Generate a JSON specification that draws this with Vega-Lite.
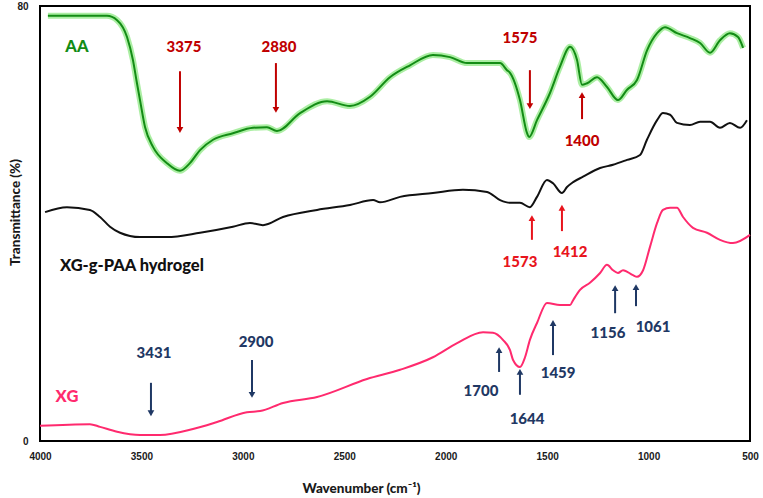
{
  "$schema": "https://vega.github.io/schema/vega-lite/v6.json",
  "autosize": "none",
  "width": 710,
  "height": 435,
  "padding": {"left": 40, "top": 6, "right": 13, "bottom": 57},
  "background": "white",
  "config": {
    "view": {"stroke": "#000000", "strokeWidth": 2},
    "font": "Lato"
  },
  "datasets": {
    "spectra": [
      {"group": "AA", "wn": 3961, "t": 78.2}, {"group": "AA", "wn": 3670, "t": 78.2}, {"group": "AA", "wn": 3620, "t": 77.4},
      {"group": "AA", "wn": 3571, "t": 74.3}, {"group": "AA", "wn": 3542, "t": 70.1}, {"group": "AA", "wn": 3522, "t": 65.8},
      {"group": "AA", "wn": 3507, "t": 62.7}, {"group": "AA", "wn": 3482, "t": 57.7}, {"group": "AA", "wn": 3443, "t": 54.1},
      {"group": "AA", "wn": 3374, "t": 51.1}, {"group": "AA", "wn": 3310, "t": 49.7}, {"group": "AA", "wn": 3261, "t": 51.1},
      {"group": "AA", "wn": 3211, "t": 53.5}, {"group": "AA", "wn": 3147, "t": 55.4}, {"group": "AA", "wn": 3049, "t": 56.6},
      {"group": "AA", "wn": 2950, "t": 57.6}, {"group": "AA", "wn": 2881, "t": 57.7}, {"group": "AA", "wn": 2832, "t": 57.0},
      {"group": "AA", "wn": 2718, "t": 60.3}, {"group": "AA", "wn": 2585, "t": 62.5}, {"group": "AA", "wn": 2472, "t": 61.6},
      {"group": "AA", "wn": 2373, "t": 63.3}, {"group": "AA", "wn": 2275, "t": 66.9}, {"group": "AA", "wn": 2176, "t": 69.1},
      {"group": "AA", "wn": 2063, "t": 71.0}, {"group": "AA", "wn": 1979, "t": 70.6}, {"group": "AA", "wn": 1895, "t": 69.5},
      {"group": "AA", "wn": 1816, "t": 69.5}, {"group": "AA", "wn": 1732, "t": 69.5}, {"group": "AA", "wn": 1698, "t": 68.2},
      {"group": "AA", "wn": 1683, "t": 67.7}, {"group": "AA", "wn": 1634, "t": 62.7}, {"group": "AA", "wn": 1599, "t": 56.6},
      {"group": "AA", "wn": 1589, "t": 55.9}, {"group": "AA", "wn": 1550, "t": 59.0}, {"group": "AA", "wn": 1486, "t": 64.0},
      {"group": "AA", "wn": 1437, "t": 68.8}, {"group": "AA", "wn": 1387, "t": 72.5}, {"group": "AA", "wn": 1353, "t": 70.1},
      {"group": "AA", "wn": 1328, "t": 65.5}, {"group": "AA", "wn": 1303, "t": 65.8}, {"group": "AA", "wn": 1254, "t": 66.9},
      {"group": "AA", "wn": 1205, "t": 65.1}, {"group": "AA", "wn": 1151, "t": 62.7}, {"group": "AA", "wn": 1106, "t": 64.6},
      {"group": "AA", "wn": 1057, "t": 66.4}, {"group": "AA", "wn": 1007, "t": 71.9}, {"group": "AA", "wn": 958, "t": 75.0},
      {"group": "AA", "wn": 919, "t": 76.1}, {"group": "AA", "wn": 860, "t": 75.0}, {"group": "AA", "wn": 796, "t": 74.1},
      {"group": "AA", "wn": 746, "t": 73.2}, {"group": "AA", "wn": 697, "t": 71.4}, {"group": "AA", "wn": 648, "t": 73.7},
      {"group": "AA", "wn": 599, "t": 75.0}, {"group": "AA", "wn": 559, "t": 74.3}, {"group": "AA", "wn": 534, "t": 72.3},

      {"group": "XG-g-PAA hydrogel", "wn": 3975, "t": 42.1}, {"group": "XG-g-PAA hydrogel", "wn": 3867, "t": 43.0},
      {"group": "XG-g-PAA hydrogel", "wn": 3754, "t": 42.5}, {"group": "XG-g-PAA hydrogel", "wn": 3704, "t": 41.2},
      {"group": "XG-g-PAA hydrogel", "wn": 3655, "t": 39.4}, {"group": "XG-g-PAA hydrogel", "wn": 3606, "t": 38.3},
      {"group": "XG-g-PAA hydrogel", "wn": 3507, "t": 37.5}, {"group": "XG-g-PAA hydrogel", "wn": 3374, "t": 37.5},
      {"group": "XG-g-PAA hydrogel", "wn": 3211, "t": 38.3}, {"group": "XG-g-PAA hydrogel", "wn": 3049, "t": 39.4},
      {"group": "XG-g-PAA hydrogel", "wn": 2965, "t": 40.1}, {"group": "XG-g-PAA hydrogel", "wn": 2901, "t": 39.7},
      {"group": "XG-g-PAA hydrogel", "wn": 2802, "t": 41.2}, {"group": "XG-g-PAA hydrogel", "wn": 2634, "t": 42.5},
      {"group": "XG-g-PAA hydrogel", "wn": 2472, "t": 43.4}, {"group": "XG-g-PAA hydrogel", "wn": 2358, "t": 44.3},
      {"group": "XG-g-PAA hydrogel", "wn": 2324, "t": 43.9}, {"group": "XG-g-PAA hydrogel", "wn": 2225, "t": 44.9},
      {"group": "XG-g-PAA hydrogel", "wn": 2063, "t": 45.6}, {"group": "XG-g-PAA hydrogel", "wn": 1915, "t": 46.2},
      {"group": "XG-g-PAA hydrogel", "wn": 1796, "t": 45.8}, {"group": "XG-g-PAA hydrogel", "wn": 1732, "t": 44.3},
      {"group": "XG-g-PAA hydrogel", "wn": 1683, "t": 43.8}, {"group": "XG-g-PAA hydrogel", "wn": 1634, "t": 43.8},
      {"group": "XG-g-PAA hydrogel", "wn": 1585, "t": 43.0}, {"group": "XG-g-PAA hydrogel", "wn": 1550, "t": 44.9},
      {"group": "XG-g-PAA hydrogel", "wn": 1501, "t": 48.0}, {"group": "XG-g-PAA hydrogel", "wn": 1471, "t": 47.4},
      {"group": "XG-g-PAA hydrogel", "wn": 1427, "t": 45.6}, {"group": "XG-g-PAA hydrogel", "wn": 1402, "t": 46.7},
      {"group": "XG-g-PAA hydrogel", "wn": 1372, "t": 47.6}, {"group": "XG-g-PAA hydrogel", "wn": 1323, "t": 48.6},
      {"group": "XG-g-PAA hydrogel", "wn": 1239, "t": 50.2}, {"group": "XG-g-PAA hydrogel", "wn": 1175, "t": 50.8},
      {"group": "XG-g-PAA hydrogel", "wn": 1106, "t": 51.7}, {"group": "XG-g-PAA hydrogel", "wn": 1042, "t": 52.6},
      {"group": "XG-g-PAA hydrogel", "wn": 1008, "t": 55.4}, {"group": "XG-g-PAA hydrogel", "wn": 958, "t": 59.0},
      {"group": "XG-g-PAA hydrogel", "wn": 929, "t": 60.3}, {"group": "XG-g-PAA hydrogel", "wn": 894, "t": 60.0},
      {"group": "XG-g-PAA hydrogel", "wn": 860, "t": 58.5}, {"group": "XG-g-PAA hydrogel", "wn": 796, "t": 58.1},
      {"group": "XG-g-PAA hydrogel", "wn": 746, "t": 58.7}, {"group": "XG-g-PAA hydrogel", "wn": 697, "t": 58.7},
      {"group": "XG-g-PAA hydrogel", "wn": 648, "t": 57.6}, {"group": "XG-g-PAA hydrogel", "wn": 599, "t": 58.5},
      {"group": "XG-g-PAA hydrogel", "wn": 549, "t": 57.6}, {"group": "XG-g-PAA hydrogel", "wn": 515, "t": 59.0},

      {"group": "XG", "wn": 4000, "t": 2.8}, {"group": "XG", "wn": 3754, "t": 3.1}, {"group": "XG", "wn": 3704, "t": 2.6},
      {"group": "XG", "wn": 3620, "t": 1.7}, {"group": "XG", "wn": 3507, "t": 1.1}, {"group": "XG", "wn": 3408, "t": 1.1},
      {"group": "XG", "wn": 3246, "t": 2.2}, {"group": "XG", "wn": 3127, "t": 3.5}, {"group": "XG", "wn": 2980, "t": 5.3},
      {"group": "XG", "wn": 2915, "t": 5.5}, {"group": "XG", "wn": 2802, "t": 7.0}, {"group": "XG", "wn": 2634, "t": 8.1},
      {"group": "XG", "wn": 2388, "t": 11.4}, {"group": "XG", "wn": 2225, "t": 13.1}, {"group": "XG", "wn": 2063, "t": 15.4},
      {"group": "XG", "wn": 1944, "t": 18.0}, {"group": "XG", "wn": 1816, "t": 20.0}, {"group": "XG", "wn": 1767, "t": 19.9},
      {"group": "XG", "wn": 1718, "t": 18.6}, {"group": "XG", "wn": 1683, "t": 16.7}, {"group": "XG", "wn": 1668, "t": 14.9},
      {"group": "XG", "wn": 1634, "t": 13.6}, {"group": "XG", "wn": 1609, "t": 15.4}, {"group": "XG", "wn": 1585, "t": 18.6},
      {"group": "XG", "wn": 1550, "t": 21.7}, {"group": "XG", "wn": 1501, "t": 25.4}, {"group": "XG", "wn": 1437, "t": 25.0},
      {"group": "XG", "wn": 1387, "t": 25.0}, {"group": "XG", "wn": 1372, "t": 25.9}, {"group": "XG", "wn": 1338, "t": 27.8},
      {"group": "XG", "wn": 1289, "t": 29.1}, {"group": "XG", "wn": 1239, "t": 30.9}, {"group": "XG", "wn": 1205, "t": 32.4},
      {"group": "XG", "wn": 1175, "t": 31.4}, {"group": "XG", "wn": 1151, "t": 30.9}, {"group": "XG", "wn": 1126, "t": 31.4},
      {"group": "XG", "wn": 1077, "t": 30.5}, {"group": "XG", "wn": 1057, "t": 30.2}, {"group": "XG", "wn": 1027, "t": 31.4},
      {"group": "XG", "wn": 993, "t": 35.7}, {"group": "XG", "wn": 958, "t": 40.1}, {"group": "XG", "wn": 929, "t": 42.5},
      {"group": "XG", "wn": 894, "t": 42.9}, {"group": "XG", "wn": 860, "t": 42.9}, {"group": "XG", "wn": 830, "t": 41.2},
      {"group": "XG", "wn": 781, "t": 39.2}, {"group": "XG", "wn": 712, "t": 38.3}, {"group": "XG", "wn": 648, "t": 37.0},
      {"group": "XG", "wn": 584, "t": 36.4}, {"group": "XG", "wn": 500, "t": 37.9}
    ],
    "names": [
      {"group": "AA", "wn": 3818, "t": 72.5, "label": "AA"},
      {"group": "XG-g-PAA hydrogel", "wn": 3547, "t": 32.2, "label": "XG-g-PAA hydrogel"},
      {"group": "XG", "wn": 3867, "t": 8.1, "label": "XG"}
    ],
    "peaks": [
      {"group": "AA peak", "wn": 3290, "t": 72.5, "label": "3375", "x": 3310, "tail": 68.0, "head": 57.2, "dir": "down"},
      {"group": "AA peak", "wn": 2822, "t": 72.5, "label": "2880", "x": 2837, "tail": 69.5, "head": 60.9, "dir": "down"},
      {"group": "AA peak", "wn": 1634, "t": 74.1, "label": "1575", "x": 1585, "tail": 68.2, "head": 61.6, "dir": "down"},
      {"group": "AA peak", "wn": 1328, "t": 55.2, "label": "1400", "x": 1328, "tail": 59.2, "head": 63.6, "dir": "up"},
      {"group": "Gel peak", "wn": 1634, "t": 32.9, "label": "1573", "x": 1575, "tail": 37.0, "head": 41.0, "dir": "up"},
      {"group": "Gel peak", "wn": 1387, "t": 34.8, "label": "1412", "x": 1427, "tail": 38.6, "head": 42.9, "dir": "up"},
      {"group": "XG peak", "wn": 3438, "t": 16.2, "label": "3431", "x": 3453, "tail": 10.7, "head": 5.1, "dir": "down"},
      {"group": "XG peak", "wn": 2935, "t": 18.2, "label": "2900", "x": 2955, "tail": 14.9, "head": 8.5, "dir": "down"},
      {"group": "XG peak", "wn": 1826, "t": 9.2, "label": "1700", "x": 1737, "tail": 12.7, "head": 16.7, "dir": "up"},
      {"group": "XG peak", "wn": 1599, "t": 4.0, "label": "1644", "x": 1634, "tail": 8.5, "head": 12.7, "dir": "up"},
      {"group": "XG peak", "wn": 1446, "t": 12.5, "label": "1459", "x": 1471, "tail": 15.8, "head": 21.7, "dir": "up"},
      {"group": "XG peak", "wn": 1200, "t": 19.9, "label": "1156", "x": 1165, "tail": 23.5, "head": 28.1, "dir": "up"},
      {"group": "XG peak", "wn": 978, "t": 21.0, "label": "1061", "x": 1062, "tail": 24.8, "head": 28.3, "dir": "up"}
    ]
  },
  "encoding": {
    "x": {
      "type": "quantitative",
      "scale": {"domain": [500, 4000], "reverse": true, "nice": false, "zero": false},
      "axis": {
        "title": "Wavenumber (cm⁻¹)",
        "values": [4000, 3500, 3000, 2500, 2000, 1500, 1000, 500],
        "format": "d",
        "grid": false, "domain": false, "ticks": false, "tickSize": 0,
        "labelPadding": 10, "labelFont": "Liberation Sans", "labelFontWeight": "bold",
        "labelFontSize": 10, "labelColor": "#1a1a1a", "labelFlush": false,
        "titleFont": "Lato", "titleFontWeight": 900, "titleFontSize": 13.5,
        "titleColor": "#1a1a1a", "titleX": 321, "titleY": 47,
        "titleAlign": "center", "titleBaseline": "middle"
      }
    },
    "y": {
      "type": "quantitative",
      "scale": {"domain": [0, 80], "nice": false, "zero": false},
      "axis": {
        "title": "Transmittance (%)",
        "values": [0, 80],
        "grid": false, "domain": false, "ticks": false, "tickSize": 0,
        "labelPadding": 12, "labelFont": "Liberation Sans", "labelFontWeight": "bold",
        "labelFontSize": 10, "labelColor": "#1a1a1a", "labelFlush": false,
        "titleFont": "Lato", "titleFontWeight": 900, "titleFontSize": 13.5,
        "titleColor": "#1a1a1a", "titleX": -25, "titleY": 206,
        "titleAngle": -90, "titleAlign": "center", "titleBaseline": "middle"
      }
    }
  },
  "layer": [
    {
      "data": {"name": "spectra"},
      "transform": [{"filter": "datum.group === 'AA'"}],
      "mark": {"type": "line", "stroke": "#8fe884", "strokeWidth": 6, "opacity": 0.75, "interpolate": "monotone"},
      "encoding": {"x": {"field": "wn"}, "y": {"field": "t"}}
    },
    {
      "data": {"name": "spectra"},
      "mark": {"type": "line", "strokeWidth": 2, "interpolate": "monotone"},
      "encoding": {
        "x": {"field": "wn"},
        "y": {"field": "t"},
        "color": {
          "field": "group", "type": "nominal", "legend": null,
          "scale": {
            "domain": ["AA", "XG-g-PAA hydrogel", "XG", "AA peak", "Gel peak", "XG peak"],
            "range": ["#138c15", "#111111", "#ff2a6e", "#c00000", "#e8141c", "#1f3864"]
          }
        },
        "detail": {"field": "group"}
      }
    },
    {
      "data": {"name": "peaks"},
      "mark": {"type": "rule", "strokeWidth": 2},
      "encoding": {
        "x": {"field": "x"},
        "y": {"field": "tail"},
        "y2": {"field": "head"},
        "color": {"field": "group", "type": "nominal", "legend": null}
      }
    },
    {
      "data": {"name": "peaks"},
      "mark": {"type": "point", "filled": true, "size": 45, "opacity": 1},
      "encoding": {
        "x": {"field": "x"},
        "y": {"field": "head"},
        "shape": {
          "field": "dir", "type": "nominal", "legend": null,
          "scale": {"domain": ["down", "up"], "range": ["triangle-down", "triangle-up"]}
        },
        "color": {"field": "group", "type": "nominal", "legend": null}
      }
    },
    {
      "data": {"name": "peaks"},
      "mark": {"type": "text", "font": "Lato", "fontWeight": 900, "fontSize": 15, "align": "center", "baseline": "middle"},
      "encoding": {
        "x": {"field": "wn"},
        "y": {"field": "t"},
        "text": {"field": "label"},
        "color": {"field": "group", "type": "nominal", "legend": null}
      }
    },
    {
      "data": {"name": "names"},
      "mark": {"type": "text", "font": "Lato", "fontWeight": 900, "fontSize": 16.5, "align": "center", "baseline": "middle"},
      "encoding": {
        "x": {"field": "wn"},
        "y": {"field": "t"},
        "text": {"field": "label"},
        "color": {
          "field": "group", "type": "nominal", "legend": null,
          "scale": {
            "domain": ["AA", "XG-g-PAA hydrogel", "XG", "AA peak", "Gel peak", "XG peak"],
            "range": ["#138c15", "#111111", "#ff2a6e", "#c00000", "#e8141c", "#1f3864"]
          }
        }
      }
    }
  ]
}
